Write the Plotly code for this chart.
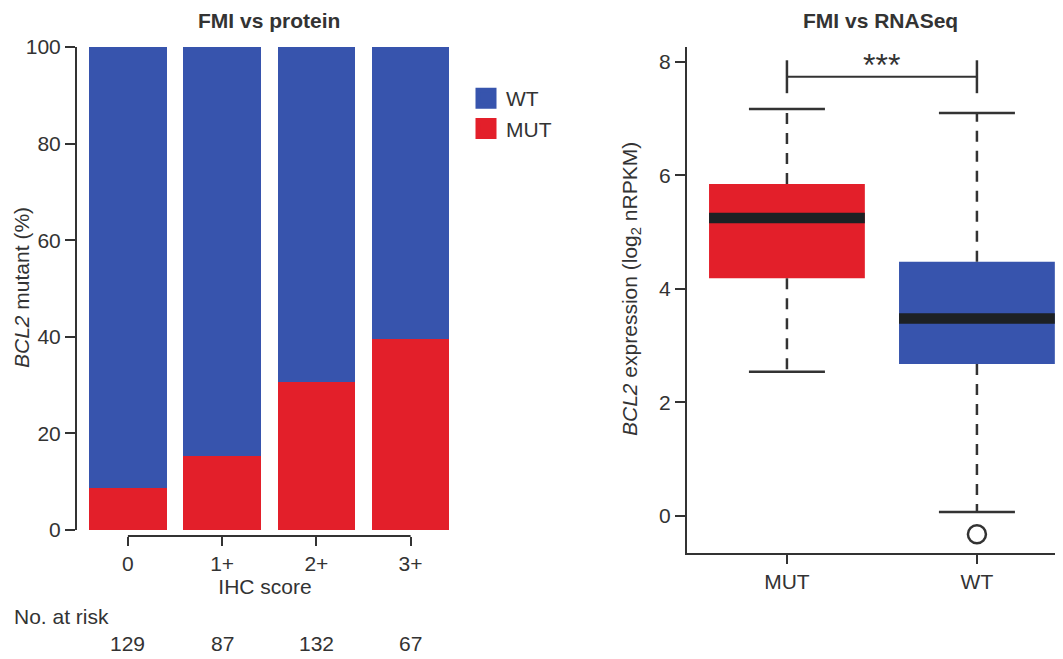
import plotly.graph_objects as go

# ---------------- data ----------------
ihc_scores = ["0", "1+", "2+", "3+"]
mut_pct = [8.7, 15.3, 30.6, 39.5]
wt_pct = [91.3, 84.7, 69.4, 60.5]
n_at_risk = [129, 87, 132, 67]

groups = ["MUT", "WT"]
q1_vals = [4.19, 2.68]
median_vals = [5.25, 3.48]
q3_vals = [5.85, 4.48]
lower_whisker = [2.54, 0.07]
upper_whisker = [7.17, 7.10]
outlier_group = ["WT"]
outlier_vals = [-0.32]

bar_ticks = [0, 20, 40, 60, 80, 100]
box_ticks = [0, 2, 4, 6, 8]

# ---------------- style ----------------
BLUE = "#3754ad"
RED = "#e31f2a"
INK = "#333333"
MEDIAN = "#1d2124"
FONT = "Liberation Sans, Arial, sans-serif"
FS = 21
OFF = 8                     # page body margin
W, H = 1063 - OFF, 659 - OFF


def px_x(p):
    return (p - OFF) / W


def px_y(p):
    return (H - (p - OFF)) / H


fig = go.Figure()

xpos = list(range(len(ihc_scores)))

# stacked bars
fig.add_trace(go.Bar(x=xpos, y=mut_pct, name="MUT", marker=dict(color=RED, line=dict(width=0)),
                     width=0.82, xaxis="x", yaxis="y", showlegend=False, legendgroup="MUT"))
fig.add_trace(go.Bar(x=xpos, y=wt_pct, name="WT", marker=dict(color=BLUE, line=dict(width=0)),
                     width=0.82, xaxis="x", yaxis="y", showlegend=False, legendgroup="WT"))
# legend entries (square keys)
fig.add_trace(go.Scatter(x=[None], y=[None], mode="markers", name="MUT", legendgroup="MUT",
                         marker=dict(symbol="square", size=16, color=RED,
                                     line=dict(width=5, color=RED)), xaxis="x", yaxis="y"))
fig.add_trace(go.Scatter(x=[None], y=[None], mode="markers", name="WT", legendgroup="WT",
                         marker=dict(symbol="square", size=16, color=BLUE,
                                     line=dict(width=5, color=BLUE)), xaxis="x", yaxis="y"))

# box plots
box_colors = [RED, BLUE]
gpos = {g: i for i, g in enumerate(groups)}
for i, g in enumerate(groups):
    fig.add_trace(go.Box(x=[i], q1=[q1_vals[i]], median=[median_vals[i]], q3=[q3_vals[i]],
                         lowerfence=[lower_whisker[i]], upperfence=[upper_whisker[i]],
                         width=0.82, whiskerwidth=0.5, fillcolor=box_colors[i],
                         line=dict(width=0, color=box_colors[i]), boxpoints=False,
                         name=g, showlegend=False, hoverinfo="skip",
                         xaxis="x2", yaxis="y2"))
    # dashed whiskers
    fig.add_trace(go.Scatter(x=[i, i, None, i, i],
                             y=[q3_vals[i], upper_whisker[i], None, q1_vals[i], lower_whisker[i]],
                             mode="lines", line=dict(color=INK, width=2.5, dash="11px,9px"),
                             showlegend=False, hoverinfo="skip", xaxis="x2", yaxis="y2"))
    # whisker caps
    fig.add_trace(go.Scatter(x=[i - 0.2, i + 0.2, None, i - 0.2, i + 0.2],
                             y=[upper_whisker[i], upper_whisker[i], None, lower_whisker[i], lower_whisker[i]],
                             mode="lines", line=dict(color=INK, width=2.5),
                             showlegend=False, hoverinfo="skip", xaxis="x2", yaxis="y2"))
    # median
    fig.add_trace(go.Scatter(x=[i - 0.41, i + 0.41], y=[median_vals[i], median_vals[i]],
                             mode="lines", line=dict(color=MEDIAN, width=10.5),
                             showlegend=False, hoverinfo="skip", xaxis="x2", yaxis="y2"))

fig.add_trace(go.Scatter(x=[gpos[g] for g in outlier_group], y=outlier_vals, mode="markers",
                         marker=dict(symbol="circle-open", size=18, color=INK, line=dict(width=2.5)),
                         showlegend=False, hoverinfo="skip", xaxis="x2", yaxis="y2"))

# ---------------- layout ----------------
axis_font = dict(family=FONT, size=FS, color=INK)
left_dom_x = [px_x(77), px_x(453)]
left_dom_y = [px_y(530), px_y(47)]
right_dom_x = [px_x(687), 1.0]
right_dom_y = [px_y(553), px_y(47)]

fig.update_layout(
    width=W, height=H, autosize=False,
    margin=dict(l=0, r=0, t=0, b=0),
    paper_bgcolor="white", plot_bgcolor="white",
    barmode="stack", bargap=0,
    font=axis_font,
    showlegend=True,
    legend=dict(x=px_x(466), y=px_y(78), xanchor="left", yanchor="top",
                traceorder="reversed", font=axis_font, bgcolor="rgba(0,0,0,0)",
                itemsizing="trace"),
    xaxis=dict(domain=left_dom_x, range=[-0.54, 3.45], anchor="free", position=px_y(536),
               tickvals=xpos, ticktext=ihc_scores, ticks="outside", ticklen=9, tickwidth=2,
               tickcolor=INK, showline=False, showgrid=False, zeroline=False,
               tickfont=axis_font, automargin=False,
               title=dict(text="IHC score", font=axis_font, standoff=4)),
    yaxis=dict(domain=left_dom_y, range=[0, 100], anchor="x", tickvals=bar_ticks,
               ticks="outside", ticklen=10, tickwidth=2, tickcolor=INK,
               showline=True, linecolor=INK, linewidth=2, showgrid=False, zeroline=False,
               tickfont=axis_font, automargin=False),
    xaxis2=dict(domain=right_dom_x, range=[-0.526, 1.453], anchor="y2",
                tickvals=[0, 1], ticktext=groups, ticks="outside", ticklen=9, tickwidth=2,
                tickcolor=INK, showline=True, linecolor=INK, linewidth=2, showgrid=False,
                zeroline=False, tickfont=axis_font, automargin=False),
    yaxis2=dict(domain=right_dom_y, range=[-0.652, 8.264], anchor="x2", tickvals=box_ticks,
                ticks="outside", ticklen=10, tickwidth=2, tickcolor=INK,
                showline=True, linecolor=INK, linewidth=2, showgrid=False, zeroline=False,
                tickfont=axis_font, automargin=False),
)

shapes = [
    # left x-axis line spanning first to last category (R style)
    dict(type="line", xref="x", yref="paper", x0=xpos[0], x1=xpos[-1],
         y0=px_y(536), y1=px_y(536), line=dict(color=INK, width=2)),
    # significance bracket
    dict(type="line", xref="x2", yref="y2", x0=0, x1=1, y0=7.74, y1=7.74,
         line=dict(color=INK, width=2)),
    dict(type="line", xref="x2", yref="y2", x0=0, x1=0, y0=7.45, y1=8.03,
         line=dict(color=INK, width=2.5)),
    dict(type="line", xref="x2", yref="y2", x0=1, x1=1, y0=7.45, y1=8.03,
         line=dict(color=INK, width=2.5)),
]
fig.update_layout(shapes=shapes)

annotations = [
    dict(text="<b>FMI vs protein</b>", x=px_x(269), y=px_y(20), xref="paper", yref="paper",
         showarrow=False, xanchor="center", yanchor="middle", font=axis_font),
    dict(text="<b>FMI vs RNASeq</b>", x=px_x(880), y=px_y(20), xref="paper", yref="paper",
         showarrow=False, xanchor="center", yanchor="middle", font=axis_font),
    dict(text="<i>BCL2</i> mutant (%)", x=px_x(22), y=px_y(288), xref="paper", yref="paper",
         showarrow=False, textangle=-90, xanchor="center", yanchor="middle", font=axis_font),
    dict(text="<i>BCL2</i> expression (log<sub>2</sub> nRPKM)", x=px_x(631), y=px_y(289),
         xref="paper", yref="paper", showarrow=False, textangle=-90,
         xanchor="center", yanchor="middle", font=axis_font),
    dict(text="***", x=0.5, y=7.95, xref="x2", yref="y2", showarrow=False,
         xanchor="center", yanchor="middle", font=dict(family=FONT, size=32, color=INK)),
    dict(text="No. at risk", x=px_x(12), y=px_y(616), xref="paper", yref="paper",
         showarrow=False, xanchor="left", yanchor="middle", font=axis_font),
]
for i, n in enumerate(n_at_risk):
    annotations.append(dict(text=str(n), x=xpos[i], y=px_y(643), xref="x", yref="paper",
                            showarrow=False, xanchor="center", yanchor="middle", font=axis_font))
fig.update_layout(annotations=annotations)

fig.write_html("out.html")
